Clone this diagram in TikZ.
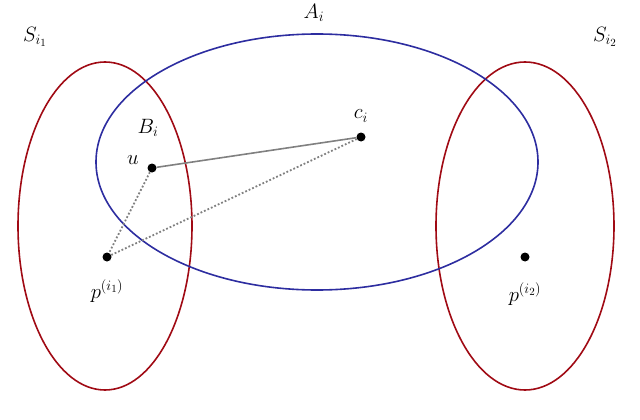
\documentclass[tikz,border=0pt]{standalone}
\begin{document}
\begin{tikzpicture}[x=1pt,y=-1pt,
  redell/.style={draw={rgb,255:red,160;green,10;blue,20},line width=1.6pt},
  blueell/.style={draw={rgb,255:red,45;green,45;blue,160},line width=1.6pt},
  dot/.style={circle,fill=black,inner sep=0pt,minimum size=9pt},
  lab/.style={font=\fontsize{22}{26}\selectfont}]
\useasboundingbox (0,0) rectangle (640,420);
\draw[redell] (105,226) ellipse [x radius=87,y radius=164];
\draw[redell] (525,226) ellipse [x radius=89,y radius=164];
\draw[blueell] (317,162) ellipse [x radius=221,y radius=128];
\node[dot] (u) at (152,168) {};
\node[dot] (c) at (361,137) {};
\node[dot] (p1) at (107,257) {};
\node[dot] (p2) at (525,257) {};
\draw[gray,line width=1.6pt] (u) -- (c);
\draw[gray,dotted,line width=1.8pt] (u) -- (p1) -- (c);
\node[lab] at (35,37) {$S_{i_1}$};
\node[lab] at (605,37) {$S_{i_2}$};
\node[lab] at (314,13) {$A_i$};
\node[lab] at (148,128) {$B_i$};
\node[lab] at (133,160) {$u$};
\node[lab] at (361,116) {$c_i$};
\node[lab] at (107,291) {$p^{(i_1)}$};
\node[lab] at (525,294) {$p^{(i_2)}$};
\end{tikzpicture}
\end{document}
